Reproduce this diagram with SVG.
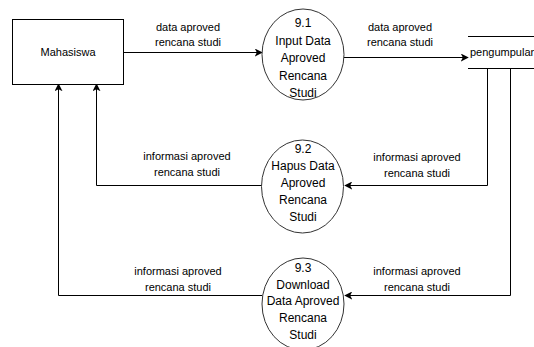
<svg xmlns="http://www.w3.org/2000/svg" width="534" height="347" viewBox="0 0 534 347">
  <style>
    .bg { fill: #ffffff; }
    .entity { fill: #ffffff; stroke: #000000; stroke-width: 1; }
    .process { fill: #ffffff; stroke: #333333; stroke-width: 1; }
    .store { fill: none; stroke: #000000; stroke-width: 1; }
    .flow { fill: none; stroke: #000000; stroke-width: 1; }
    .t12 { font-family: "Liberation Sans", Arial, sans-serif; font-size: 12px; fill: #000000; text-anchor: middle; }
    .t11 { font-family: "Liberation Sans", Arial, sans-serif; font-size: 11px; fill: #000000; text-anchor: middle; }
    .t11l { font-family: "Liberation Sans", Arial, sans-serif; font-size: 11px; fill: #000000; }
  </style>
  <defs>
    <marker id="arrow" viewBox="0 0 10 10" refX="9" refY="5" markerWidth="8" markerHeight="8" markerUnits="userSpaceOnUse" orient="auto">
      <path d="M0,0 L10,5 L0,10 L2.5,5 Z" fill="#000000"/>
    </marker>
  </defs>

  <rect class="bg" x="0" y="0" width="534" height="347"/>

  <!-- connectors -->
  <g id="connectors">
    <path class="flow" d="M124,52.5 L262,52.5" marker-end="url(#arrow)"/>
    <path class="flow" d="M344,57.5 L468,57.5" marker-end="url(#arrow)"/>
    <path class="flow" d="M487.5,68 L487.5,185.5 L345,185.5" marker-end="url(#arrow)"/>
    <path class="flow" d="M510.5,68 L510.5,295.5 L345,295.5" marker-end="url(#arrow)"/>
    <path class="flow" d="M262,185.5 L96.5,185.5 L96.5,84" marker-end="url(#arrow)"/>
    <path class="flow" d="M262,295.5 L58.5,295.5 L58.5,84" marker-end="url(#arrow)"/>

    <text class="t11" x="188" y="31">data aproved</text>
    <text class="t11" x="188" y="46">rencana studi</text>
    <text class="t11" x="400" y="31">data aproved</text>
    <text class="t11" x="400" y="46">rencana studi</text>
    <text class="t11" x="187" y="160">informasi aproved</text>
    <text class="t11" x="187" y="176">rencana studi</text>
    <text class="t11" x="417" y="161">informasi aproved</text>
    <text class="t11" x="417" y="177">rencana studi</text>
    <text class="t11" x="178" y="275">informasi aproved</text>
    <text class="t11" x="178" y="291">rencana studi</text>
    <text class="t11" x="417" y="275">informasi aproved</text>
    <text class="t11" x="417" y="291">rencana studi</text>
  </g>

  <!-- external entity -->
  <g id="mahasiswa">
    <rect class="entity" x="12.5" y="19.5" width="111" height="65"/>
    <text class="t11" x="68" y="56">Mahasiswa</text>
  </g>

  <!-- processes -->
  <g id="p9-1">
    <ellipse class="process" cx="303" cy="54.5" rx="41" ry="45.5"/>
    <text class="t12" x="303" y="27">9.1</text>
    <text class="t12" x="303" y="44.5">Input Data</text>
    <text class="t12" x="303" y="62">Aproved</text>
    <text class="t12" x="303" y="79.5">Rencana</text>
    <text class="t12" x="303" y="97">Studi</text>
  </g>

  <g id="p9-2">
    <ellipse class="process" cx="302.5" cy="186.5" rx="41" ry="46.5"/>
    <text class="t12" x="303" y="153">9.2</text>
    <text class="t12" x="303" y="170">Hapus Data</text>
    <text class="t12" x="303" y="187">Aproved</text>
    <text class="t12" x="303" y="204">Rencana</text>
    <text class="t12" x="303" y="221">Studi</text>
  </g>

  <g id="p9-3">
    <ellipse class="process" cx="303" cy="304" rx="41" ry="46"/>
    <text class="t12" x="303" y="272">9.3</text>
    <text class="t12" x="303" y="288.5">Download</text>
    <text class="t12" x="303" y="305">Data Aproved</text>
    <text class="t12" x="303" y="322">Rencana</text>
    <text class="t12" x="303" y="339">Studi</text>
  </g>

  <!-- data store -->
  <g id="pengumpulan">
    <path class="store" d="M468,36.5 L534,36.5 M468,68.5 L534,68.5"/>
    <text class="t11l" x="470" y="56">pengumpulan</text>
  </g>
</svg>
